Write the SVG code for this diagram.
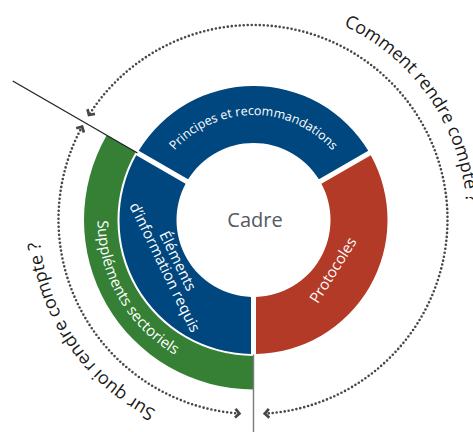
<svg xmlns="http://www.w3.org/2000/svg" xmlns:xlink="http://www.w3.org/1999/xlink" width="473" height="432" viewBox="0 0 473 432">
  <style>
    .lbl { font-family: "Open Sans", "Noto Sans", "Liberation Sans", sans-serif; fill: #ffffff; }
    .outer { font-family: "Open Sans", "Noto Sans", "Liberation Sans", sans-serif; fill: #1a1a1a; font-size: 18px; }
    .dots { fill: none; stroke: #474747; stroke-width: 2.6; stroke-linecap: round; stroke-dasharray: 0 4; marker-start: url(#chev); marker-end: url(#chev); }
    .blue { fill: #00477f; }
  </style>
  <defs>
    <marker id="chev" viewBox="-10 -10 20 20" markerWidth="20" markerHeight="20" refX="0" refY="0" orient="auto-start-reverse" markerUnits="userSpaceOnUse">
      <path d="M-4.2,-4.4 L0,0 L-4.2,4.4" fill="none" stroke="#474747" stroke-width="2.7"/>
    </marker>
    <path id="p-principes" d="M 148.5,220 A 105 105 0 0 1 358.5,220"/>
    <path id="p-supp" d="M 164.02,92.21 A 156 156 0 0 0 319.43,361.38"/>
    <path id="p-comment" d="M 343.44,25.55 A 214 214 0 0 1 446.95,309.94"/>
    <path id="p-surquoi" d="M 155.85,410.18 A 214 214 0 0 1 59.05,129.06"/>
  </defs>

  <rect width="473" height="432" fill="#ffffff"/>

  <g id="node-supplements">
    <path d="M 253.5,389.5 A 169.5 169.5 0 0 1 106.71,135.25 L 135.72,152 A 136 136 0 0 0 253.5,356 Z" fill="#358034"/>
    <text class="lbl" font-size="15" fill="#f2f2ea"><textPath xlink:href="#p-supp" href="#p-supp" startOffset="50%" text-anchor="middle">Suppléments sectoriels</textPath></text>
  </g>

  <g id="node-principes">
    <path class="blue" d="M 138.72,150.85 A 134 134 0 0 1 368.28,150.85 L 318.90,179.35 A 77 77 0 0 0 188.10,179.35 Z"/>
    <text class="lbl" font-size="12.5"><textPath xlink:href="#p-principes" href="#p-principes" startOffset="50%" text-anchor="middle">Principes et recommandations</textPath></text>
  </g>

  <g id="node-protocoles">
    <path d="M 370.78,155.18 A 134 134 0 0 1 256.0,353.98 L 256.0,296.96 A 77 77 0 0 0 321.40,183.69 Z" fill="#b33a27"/>
    <text class="lbl" font-size="15" text-anchor="middle" transform="translate(337.3,272.9) rotate(-58)">Protocoles</text>
  </g>

  <g id="node-elements">
    <path class="blue" d="M 251.0,353.98 A 134 134 0 0 1 136.22,155.18 L 185.60,183.69 A 77 77 0 0 0 251.0,296.96 Z"/>
    <g transform="translate(173.2,263.2) rotate(64)">
      <text class="lbl" font-size="15" text-anchor="middle" x="0" y="0">Éléments</text>
      <text class="lbl" font-size="15" text-anchor="middle" x="0" y="14.5">d’information requis</text>
    </g>
  </g>

  <g id="node-cadre">
    <text x="255" y="227" text-anchor="middle" font-family="Open Sans, Noto Sans, Liberation Sans, sans-serif" font-size="20" fill="#545a61">Cadre</text>
  </g>

  <g id="connectors">
    <line x1="137.45" y1="153" x2="12.74" y2="81" stroke="#222222" stroke-width="1.3"/>
    <line x1="253.5" y1="354.5" x2="253.5" y2="432" stroke="#7a7a7a" stroke-width="1.4"/>
    <path class="dots" d="M 264.87,413.64 A 194.5 194.5 0 1 0 88.96,115.0"/>
    <path class="dots" d="M 82.07,126.69 A 194.5 194.5 0 0 0 239.43,413.53"/>
    <text class="outer"><textPath xlink:href="#p-comment" href="#p-comment">Comment rendre compte ?</textPath></text>
    <text class="outer"><textPath xlink:href="#p-surquoi" href="#p-surquoi">Sur quoi rendre compte ?</textPath></text>
  </g>
</svg>
